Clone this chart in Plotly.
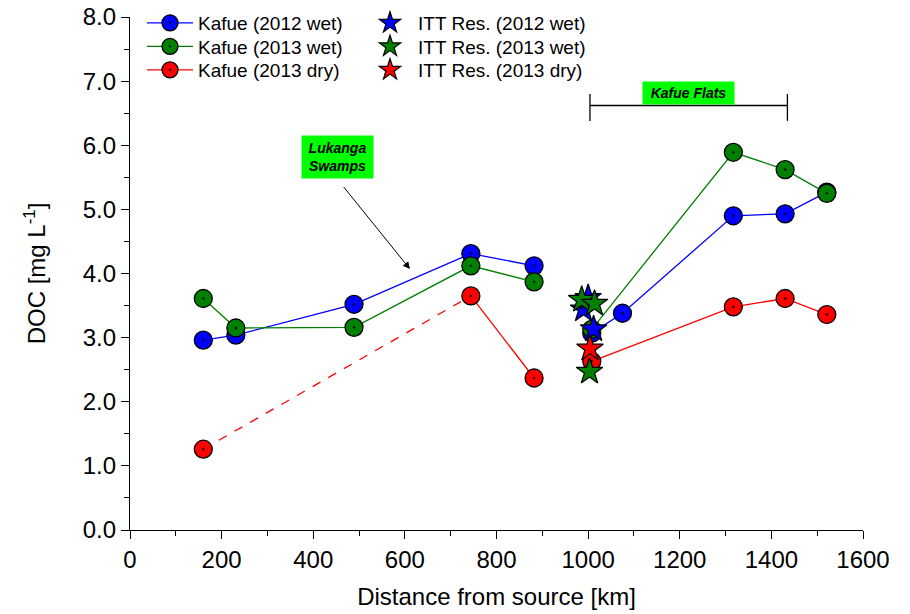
import plotly.graph_objects as go

# ---------------- data ----------------
dist_2012wet = [160, 231, 489, 744, 882, 1008, 1075, 1317, 1430, 1521]
doc_2012wet = [2.96, 3.04, 3.52, 4.31, 4.12, 3.07, 3.38, 4.90, 4.93, 5.27]

dist_2013wet = [160, 231, 489, 744, 882, 1008, 1317, 1430, 1521]
doc_2013wet = [3.61, 3.15, 3.16, 4.12, 3.87, 3.13, 5.89, 5.62, 5.25]

dist_2013dry = [160, 744, 882, 1008, 1317, 1430, 1521]
doc_2013dry = [1.26, 3.65, 2.37, 2.63, 3.48, 3.61, 3.36]

itt_2012wet_x = [990, 1000, 1012]
itt_2012wet_y = [3.44, 3.62, 3.13]
itt_2013wet_x = [986, 1014, 1003]
itt_2013wet_y = [3.59, 3.53, 2.47]
itt_2013dry_x = [1004]
itt_2013dry_y = [2.83]

RESERVOIR_BREAK_KM = 950      # river lines are interrupted at the reservoir
DRY_DASHED_SEGMENTS = 1       # first segment of 2013 dry drawn dashed

x_ticks = [0, 200, 400, 600, 800, 1000, 1200, 1400, 1600]
y_ticks = [0, 1, 2, 3, 4, 5, 6, 7, 8]

lukanga_text = "Lukanga<br>Swamps"
lukanga_arrow_tail = (464, 5.37)
lukanga_arrow_tip = (611, 4.07)
lukanga_label = (452, 5.82)
flats_text = "Kafue Flats"
flats_start, flats_end, flats_level = 1004, 1435, 6.62

FONT = "Liberation Sans, Arial, sans-serif"
BLUE, GREEN, RED = "#0000FF", "#008000", "#FF0000"

# figure geometry
W, H = 910, 614
ML, MR, MT, MB = 130, 47, 17, 84


def with_break(xs, ys, brk):
    ox, oy = [], []
    for i, (a, b) in enumerate(zip(xs, ys)):
        if i > 0 and xs[i - 1] < brk <= a:
            ox.append(None)
            oy.append(None)
        ox.append(a)
        oy.append(b)
    return ox, oy


fig = go.Figure()

mk = dict(size=18, symbol="circle-dot", line=dict(color="black", width=1.3))

# dashed part of the dry series
fig.add_trace(go.Scatter(
    x=dist_2013dry[:DRY_DASHED_SEGMENTS + 1], y=doc_2013dry[:DRY_DASHED_SEGMENTS + 1],
    mode="lines", line=dict(color=RED, width=1.3, dash="dash"),
    showlegend=False, hoverinfo="skip"))

bx, by = with_break(dist_2012wet, doc_2012wet, RESERVOIR_BREAK_KM)
fig.add_trace(go.Scatter(x=bx, y=by, mode="lines+markers", name="Kafue (2012 wet)",
                         line=dict(color=BLUE, width=1.3), marker=dict(color=BLUE, **mk),
                         legend="legend"))
gx, gy = with_break(dist_2013wet, doc_2013wet, RESERVOIR_BREAK_KM)
fig.add_trace(go.Scatter(x=gx, y=gy, mode="lines+markers", name="Kafue (2013 wet)",
                         line=dict(color=GREEN, width=1.3), marker=dict(color=GREEN, **mk),
                         legend="legend2"))
rx, ry = with_break(dist_2013dry[DRY_DASHED_SEGMENTS:], doc_2013dry[DRY_DASHED_SEGMENTS:],
                    RESERVOIR_BREAK_KM)
rx = dist_2013dry[:DRY_DASHED_SEGMENTS] + [None] + rx
ry = doc_2013dry[:DRY_DASHED_SEGMENTS] + [None] + ry
fig.add_trace(go.Scatter(x=rx, y=ry, mode="lines+markers", name="Kafue (2013 dry)",
                         line=dict(color=RED, width=1.3), marker=dict(color=RED, **mk),
                         legend="legend3"))

sk = dict(size=20, symbol="star", line=dict(color="black", width=1.2))
fig.add_trace(go.Scatter(x=itt_2012wet_x, y=itt_2012wet_y, mode="markers",
                         name="ITT Res. (2012 wet)", marker=dict(color=BLUE, **sk), legend="legend4"))
fig.add_trace(go.Scatter(x=itt_2013wet_x, y=itt_2013wet_y, mode="markers",
                         name="ITT Res. (2013 wet)", marker=dict(color=GREEN, **sk), legend="legend5"))
fig.add_trace(go.Scatter(x=itt_2013dry_x, y=itt_2013dry_y, mode="markers",
                         name="ITT Res. (2013 dry)", marker=dict(color=RED, **sk), legend="legend6"))

# annotations
fig.add_annotation(x=lukanga_arrow_tip[0], y=lukanga_arrow_tip[1],
                   ax=lukanga_arrow_tail[0], ay=lukanga_arrow_tail[1],
                   axref="x", ayref="y", xref="x", yref="y", text="",
                   showarrow=True, arrowhead=2, arrowsize=1.4, arrowwidth=1, arrowcolor="black")
fig.add_annotation(x=lukanga_label[0], y=lukanga_label[1], xref="x", yref="y",
                   text="<b><i>" + lukanga_text + "</i></b>", showarrow=False,
                   bgcolor="#00FF00", font=dict(family=FONT, size=14, color="black"),
                   borderpad=4, width=63, align="center")
fig.add_annotation(x=(flats_start + flats_end) / 2, y=flats_level, xref="x", yref="y",
                   yanchor="bottom", text="<b><i>" + flats_text + "</i></b>", showarrow=False,
                   bgcolor="#00FF00", font=dict(family=FONT, size=14, color="black"),
                   borderpad=3, width=85)
fig.add_shape(type="line", x0=flats_start, x1=flats_end, y0=flats_level, y1=flats_level,
              xref="x", yref="y", line=dict(color="black", width=1.3))
for xe in (flats_start, flats_end):
    fig.add_shape(type="line", x0=xe, x1=xe, y0=flats_level - 0.24, y1=flats_level + 0.18,
                  xref="x", yref="y", line=dict(color="black", width=1.3))

axis_common = dict(showline=True, linecolor="black", linewidth=1.3, ticks="outside",
                   tickcolor="black", tickwidth=1.3, ticklen=8, showgrid=False, zeroline=False,
                   tickfont=dict(family=FONT, size=24, color="black"),
                   minor=dict(ticks="outside", ticklen=5, tickcolor="black", tickwidth=1.3))

fig.update_xaxes(range=[0, 1600], tickvals=x_ticks, ticktext=[str(v) for v in x_ticks],
                 title=dict(text="Distance from source [km]", font=dict(family=FONT, size=24, color="black"),
                            standoff=16),
                 **axis_common)
fig.update_xaxes(minor=dict(dtick=100, tick0=0))
fig.update_yaxes(range=[0, 8], tickvals=y_ticks, ticktext=[f"{v:.1f}" for v in y_ticks],
                 title=dict(text="DOC [mg L<sup>-1</sup>]", font=dict(family=FONT, size=24, color="black"),
                            standoff=30),
                 **axis_common)
fig.update_yaxes(minor=dict(dtick=0.5, tick0=0))

plot_h = H - MT - MB
plot_w = W - ML - MR


def px_to_paper(px, py):
    return (px - ML) / plot_w, 1 - (py - MT) / plot_h


leg_common = dict(bgcolor="rgba(0,0,0,0)", font=dict(family=FONT, size=19, color="black"),
                  tracegroupgap=0, yanchor="middle", xanchor="left", itemwidth=46)
rows = [23, 46.5, 70]
legends = {}
for i, name in enumerate(["legend", "legend2", "legend3", "legend4", "legend5", "legend6"]):
    col_x = 142 if i < 3 else 362
    lx, ly = px_to_paper(col_x, rows[i % 3])
    legends[name] = dict(x=lx, y=ly, **leg_common)

fig.update_layout(
    width=W, height=H,
    margin=dict(l=ML, r=MR, t=MT, b=MB, autoexpand=False),
    plot_bgcolor="white", paper_bgcolor="white",
    font=dict(family=FONT, color="black"),
    **legends,
)

fig.write_html("out.html")
